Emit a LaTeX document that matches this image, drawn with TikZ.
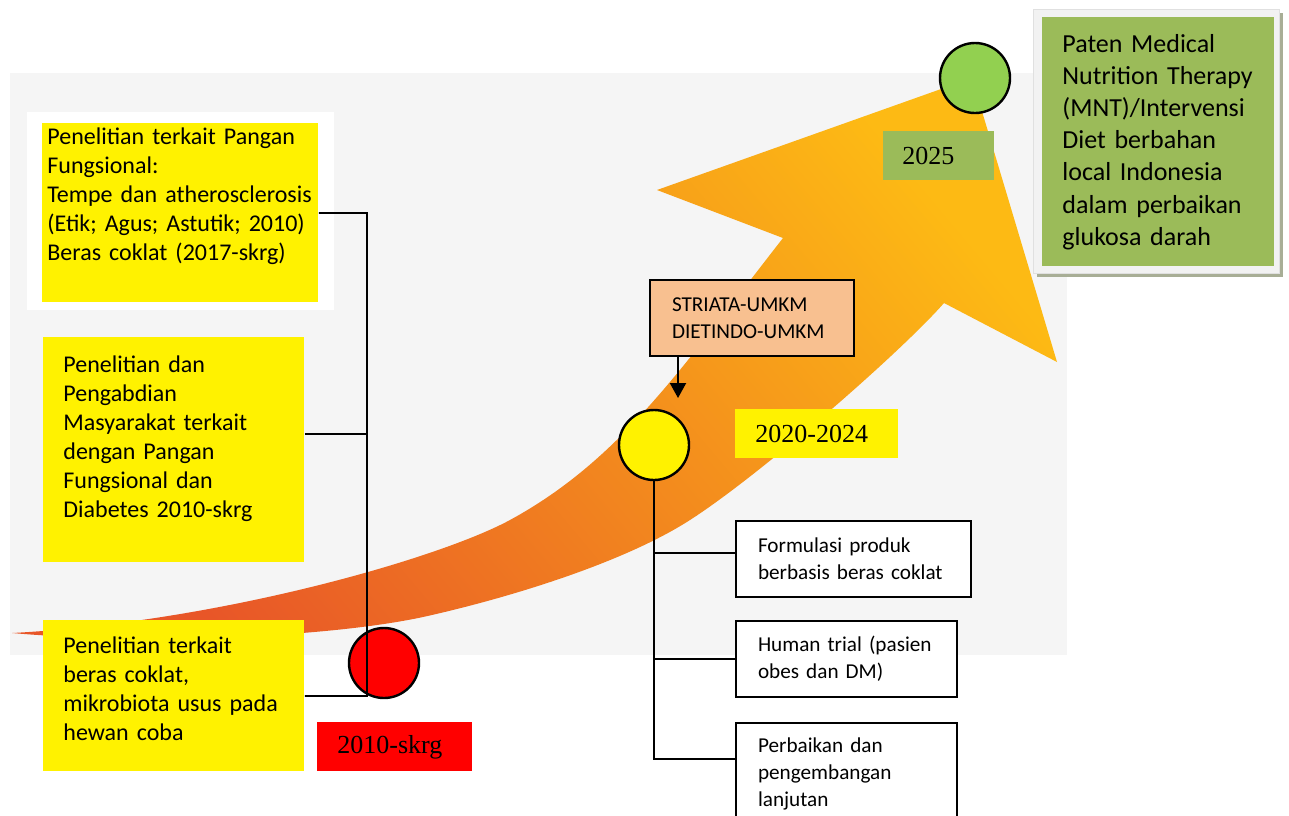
\documentclass[tikz,border=0pt]{standalone}
\usepackage{fontspec}
\setmainfont{Carlito}
\newfontfamily\yearfont{Liberation Serif}
\usetikzlibrary{arrows.meta, positioning}

\definecolor{bggrey}{RGB}{245,245,245}
\definecolor{framegrey}{RGB}{242,242,242}
\definecolor{shadowgrey}{RGB}{168,174,150}
\definecolor{arrowred}{RGB}{232,86,40}
\definecolor{arrowmid}{RGB}{244,128,32}
\definecolor{arrowyellow}{RGB}{253,186,20}
\definecolor{peach}{RGB}{248,192,144}
\definecolor{leafgreen}{RGB}{146,208,80}
\definecolor{olivegreen}{RGB}{155,187,89}

\begin{document}
\begin{tikzpicture}[
  x=0.5pt, y=-0.5pt,
  ybox/.style={rectangle, fill=yellow, anchor=north west, inner ysep=0pt, align=left, font=\fontsize{12}{14.5}\selectfont},
  wbox/.style={rectangle, draw, line width=1pt, fill=white, anchor=north west, inner xsep=11pt, inner ysep=0pt, align=left, font=\fontsize{10.6}{13.5}\selectfont},
  tag/.style={rectangle, anchor=north west, minimum height=24.5pt, inner xsep=10pt, inner ysep=0pt, align=left, font=\yearfont\fontsize{13}{15}\selectfont},
  circ/.style={circle, draw, line width=1.2pt, minimum size=35pt, inner sep=0pt},
  link/.style={line width=0.9pt},
  arrow/.style={-{Triangle[length=7.5pt, width=8pt]}, line width=1pt}
]

\useasboundingbox (0,0) rectangle (1289,815);
\clip (0,0) rectangle (1289,815);

\fill[bggrey] (10,73) rectangle (1067,655);
\fill[white] (27,112) rectangle (334,310);

\shade[top color=arrowyellow, middle color=arrowmid, bottom color=arrowred, shading angle=-50]
  (12,633) .. controls (220,622) and (440,558) .. (510,520)
  .. controls (620,460) and (680,370) .. (783,238)
  -- (657,190) -- (972,78) -- (1057,362) -- (944,303)
  .. controls (900,353) and (760,475) .. (690,520)
  .. controls (620,565) and (500,600) .. (423,617)
  .. controls (330,637) and (150,645) .. (12,633)
  -- cycle;

\fill[shadowgrey] (1037,13) rectangle (1283,277);
\filldraw[fill=framegrey, draw=black!12] (1033,9) rectangle (1279,273);

\node (topbox) [ybox, inner xsep=2.5pt, text width=133pt, minimum height=89.5pt] at (42,123)
  {Penelitian terkait Pangan\\ Fungsional:\\ Tempe dan atherosclerosis\\ (Etik; Agus; Astutik; 2010)\\ Beras coklat (2017-skrg)\\ \strut};
\node (midbox) [ybox, inner xsep=10pt, text width=110.5pt, minimum height=112.5pt] at (43,337)
  {Penelitian dan\\ Pengabdian\\ Masyarakat terkait\\ dengan Pangan\\ Fungsional dan\\ Diabetes 2010-skrg\\[-6pt] \strut};
\node (botbox) [ybox, inner xsep=10pt, text width=110.5pt, minimum height=75.5pt] at (43,620)
  {Penelitian terkait\\ beras coklat,\\ mikrobiota usus pada\\ hewan coba\\[-11.8pt] \strut};

\node (reddot) [circ, fill=red] at (384,663) {};
\node (start) [tag, fill=red, text width=57.5pt] at (317,722) {2010-skrg};

\node (striata) [wbox, fill=peach, text width=80pt, minimum height=38pt] at (649,279)
  {STRIATA-UMKM\\ DIETINDO-UMKM};
\node (ydot) [circ, fill=yellow] at (654,445) {};
\node (middle) [tag, fill=yellow, text width=61.5pt] at (735,409) {2020-2024};

\node (formula) [wbox, text width=95.5pt, minimum height=38pt] at (735,520)
  {Formulasi produk\\ berbasis beras coklat};
\node (trial) [wbox, text width=88.5pt, minimum height=38pt] at (735,620)
  {Human trial (pasien\\ obes dan DM)};
\node (lanjut) [wbox, text width=88.5pt, minimum height=51pt] at (735,722)
  {Perbaikan dan\\ pengembangan\\ lanjutan};

\node (gdot) [circ, fill=leafgreen] at (975,78) {};
\node (goal) [tag, fill=olivegreen, inner xsep=9.5pt, text width=36.5pt] at (883,131) {2025};
\node (paten) [rectangle, fill=olivegreen, anchor=north west, inner xsep=10pt, inner ysep=0pt, text width=96pt, minimum height=124.5pt, align=left, font=\fontsize{13}{16.1}\selectfont] at (1042,17)
  {Paten Medical\\ Nutrition Therapy\\ (MNT)/Intervensi\\ Diet berbahan\\ local Indonesia\\ dalam perbaikan\\ glukosa darah};

\coordinate (lbot) at (367,696);
\coordinate (mtap) at ([yshift=8pt]midbox.east);
\draw[link] (topbox.east) -| (lbot) -- (botbox.east);
\draw[link] (mtap) -- (mtap -| lbot);

\coordinate (rend) at (654,759);
\coordinate (ftap) at ([yshift=3pt]formula.west);
\draw[link] (ydot) -- (rend) -- (rend -| lanjut.west);
\draw[link] (ftap -| rend) -- (ftap);
\draw[link] (trial.west -| rend) -- (trial.west);

\coordinate (stip) at (678,398);
\draw[arrow] (striata.south -| stip) -- (stip);

\end{tikzpicture}
\end{document}
